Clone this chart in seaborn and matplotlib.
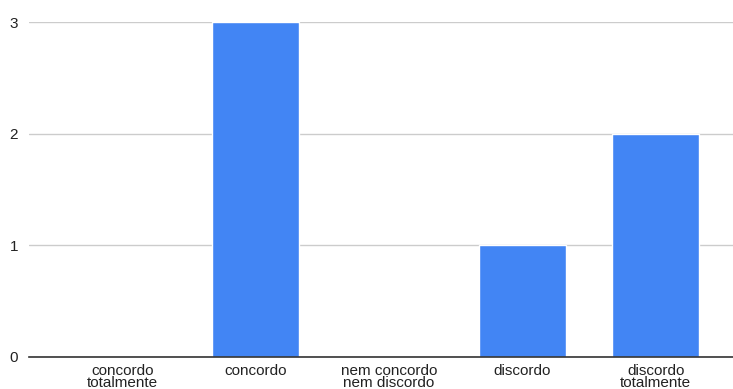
import pandas as pd
import seaborn as sns
import matplotlib.pyplot as plt

categories = ["concordo\ntotalmente", "concordo", "nem concordo\nnem discordo",
              "discordo", "discordo\ntotalmente"]
counts = [0, 3, 0, 1, 2]
y_ticks = [0, 1, 2, 3]

df = pd.DataFrame({"resposta": categories, "contagem": counts})

sns.set_style("white")
plt.rcParams["font.family"] = ["Liberation Sans", "DejaVu Sans"]

fig = plt.figure(figsize=(7.33, 3.89), dpi=100)
ax = fig.add_axes([0.0396, 0.0823, 0.9604, 0.8611])
sns.barplot(data=df, x="resposta", y="contagem", color="#4285F4",
            saturation=1, width=0.65, ax=ax, zorder=3)

ax.set_xlim(-0.70, 4.58)
ax.set_ylim(0, 3)
ax.set_yticks(y_ticks)
ax.yaxis.grid(True, color="#cccccc", linewidth=1, zorder=0)
ax.set_xlabel("")
ax.set_ylabel("")
for side in ["top", "right", "left"]:
    ax.spines[side].set_visible(False)
ax.spines["bottom"].set_color("#333333")
ax.spines["bottom"].set_linewidth(1.2)
ax.spines["bottom"].set_zorder(4)
ax.tick_params(axis="x", length=0, pad=5, labelsize=11, labelcolor="#222222")
ax.tick_params(axis="y", length=0, pad=8, labelsize=11, labelcolor="#222222")
for lbl in ax.get_xticklabels():
    lbl.set_linespacing(0.8)

fig.savefig("out.png", dpi=100)
plt.close()
